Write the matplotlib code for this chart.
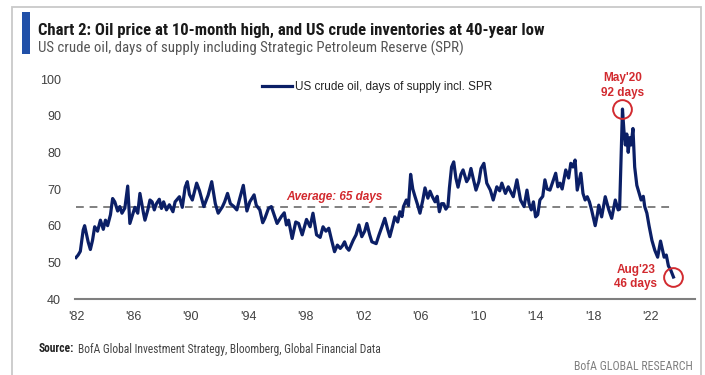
import numpy as np
import matplotlib
matplotlib.use("Agg")
import matplotlib.pyplot as plt
import matplotlib.patches as patches

# US crude oil, days of supply incl. SPR (decimal years)
years = [
    1982.0, 1982.15, 1982.3, 1982.5, 1982.6, 1982.85, 1983.0, 1983.15, 1983.3, 1983.5,
    1983.7, 1983.9, 1984.05, 1984.2, 1984.4, 1984.55, 1984.7, 1984.9, 1985.05, 1985.2,
    1985.4, 1985.6, 1985.75, 1985.9, 1986.1, 1986.3, 1986.45, 1986.7, 1986.8, 1987.0,
    1987.15, 1987.3, 1987.45, 1987.6, 1987.8, 1987.95, 1988.1, 1988.3, 1988.5, 1988.75,
    1988.9, 1989.2, 1989.4, 1989.6, 1989.75, 1989.9, 1990.1, 1990.4, 1990.6, 1990.9,
    1991.2, 1991.45, 1991.7, 1991.9, 1992.2, 1992.35, 1992.55, 1992.75, 1993.0, 1993.2,
    1993.4, 1993.65, 1993.9, 1994.1, 1994.4, 1994.55, 1994.8, 1995.0, 1995.15, 1995.4,
    1995.6, 1995.75, 1996.0, 1996.3, 1996.5, 1996.65, 1996.8, 1997.05, 1997.3, 1997.5,
    1997.75, 1998.05, 1998.3, 1998.5, 1998.75, 1999.0, 1999.2, 1999.4, 1999.6, 1999.8,
    2000.0, 2000.2, 2000.4, 2000.55, 2000.7, 2000.85, 2001.0, 2001.3, 2001.5, 2001.7,
    2001.9, 2002.1, 2002.25, 2002.45, 2002.6, 2002.9, 2003.1, 2003.3, 2003.5, 2003.7,
    2003.85, 2004.05, 2004.2, 2004.4, 2004.55, 2004.7, 2004.8, 2005.0, 2005.15, 2005.3,
    2005.45, 2005.6, 2005.8, 2005.95, 2006.15, 2006.3, 2006.5, 2006.65, 2006.8, 2007.0,
    2007.15, 2007.3, 2007.45, 2007.6, 2007.75, 2007.9, 2008.0, 2008.15, 2008.3, 2008.45,
    2008.6, 2008.8, 2008.95, 2009.2, 2009.35, 2009.5, 2009.65, 2009.85, 2010.05, 2010.2,
    2010.4, 2010.6, 2010.85, 2011.05, 2011.3, 2011.5, 2011.65, 2011.9, 2012.1, 2012.3,
    2012.45, 2012.7, 2012.95, 2013.2, 2013.4, 2013.55, 2013.7, 2013.85, 2014.0, 2014.15,
    2014.3, 2014.5, 2014.65, 2014.8, 2015.0, 2015.2, 2015.4, 2015.55, 2015.7, 2015.85,
    2016.1, 2016.3, 2016.45, 2016.6, 2016.75, 2016.9, 2017.15, 2017.3, 2017.45, 2017.6,
    2017.75, 2017.9, 2018.15, 2018.3, 2018.4, 2018.6, 2018.85, 2019.1, 2019.3, 2019.55,
    2019.75, 2019.85, 2019.95, 2020.05, 2020.15, 2020.25, 2020.35, 2020.45, 2020.55, 2020.65,
    2020.78, 2020.9, 2021.05, 2021.2, 2021.35, 2021.5, 2021.6, 2021.75, 2021.9, 2022.1,
    2022.3, 2022.5, 2022.7, 2022.8, 2022.95, 2023.1, 2023.25, 2023.4, 2023.6,
]
days = [
    51.3, 52.0, 53.0, 58.8, 60.0, 55.5, 53.5, 56.0, 59.7, 58.5,
    61.5, 59.0, 61.5, 60.0, 63.0, 67.4, 66.5, 64.0, 65.2, 63.4,
    64.8, 70.8, 60.6, 62.5, 65.0, 63.4, 68.8, 63.4, 61.5, 64.3,
    67.0, 66.5, 64.3, 66.0, 67.2, 64.7, 66.5, 64.3, 65.7, 63.8,
    66.5, 67.9, 65.0, 70.5, 72.0, 68.5, 67.0, 71.6, 69.5, 65.2,
    68.3, 72.0, 66.0, 63.4, 65.2, 66.5, 68.8, 66.0, 65.2, 64.3,
    67.4, 71.0, 64.0, 66.5, 68.4, 65.6, 64.3, 60.8, 62.0, 64.7,
    65.2, 63.5, 60.6, 62.5, 63.5, 60.2, 61.5, 56.5, 61.0, 60.6,
    57.5, 61.7, 59.7, 63.4, 57.5, 56.8, 59.7, 58.5, 59.3, 56.0,
    52.9, 54.7, 53.8, 54.5, 55.6, 54.0, 53.3, 56.0, 57.5, 60.2,
    57.0, 58.5, 60.6, 57.5, 55.6, 55.1, 57.5, 59.7, 62.0, 59.0,
    57.0, 60.0, 62.4, 61.0, 63.8, 62.5, 65.2, 67.0, 65.5, 74.0,
    70.0, 68.0, 65.5, 63.4, 67.0, 70.3, 67.5, 69.4, 68.0, 66.5,
    68.0, 63.8, 66.0, 66.0, 64.5, 65.4, 70.3, 76.0, 77.4, 73.0,
    70.5, 74.0, 75.2, 72.0, 73.0, 75.6, 73.0, 69.7, 72.0, 75.6,
    77.0, 71.6, 69.7, 67.0, 70.6, 69.5, 71.6, 68.8, 70.6, 69.0,
    67.9, 72.5, 67.0, 65.2, 69.7, 66.0, 64.3, 66.5, 62.4, 63.0,
    67.0, 68.0, 72.5, 70.0, 69.7, 72.0, 74.3, 70.6, 71.6, 70.0,
    75.2, 73.0, 77.0, 76.0, 77.9, 69.7, 74.3, 68.8, 67.0, 67.9,
    66.5, 64.3, 60.0, 63.0, 65.6, 62.4, 67.9, 64.3, 62.0, 67.0,
    64.3, 64.5, 78.0, 91.8, 86.0, 82.0, 85.0, 80.0, 84.0, 82.0,
    86.5, 76.0, 71.0, 69.0, 67.0, 68.0, 65.2, 63.4, 60.0, 56.0,
    53.3, 51.4, 55.8, 54.0, 51.4, 52.0, 49.0, 48.0, 46.0,
]
average = 65
tick_years = [1982, 1986, 1990, 1994, 1998, 2002, 2006, 2010, 2014, 2018, 2022]
tick_labels = ["'82", "'86", "'90", "'94", "'98", "'02", "'06", "'10", "'14", "'18", "'22"]

W, H = 705, 375
navy = "#0b1f66"
red = "#d22a2f"
narrow = ["Roboto Condensed", "Liberation Sans", "DejaVu Sans"]
plt.rcParams["font.family"] = ["Liberation Sans", "DejaVu Sans"]


def fpos(x, y):
    # pixel position -> figure fraction
    return x / W, 1 - y / H


fig = plt.figure(figsize=(W / 100, H / 100), dpi=100)
fig.patch.set_facecolor("white")

# frame and blue accent bar
fig.add_artist(patches.Rectangle(fpos(12, 400), 689 / W, 393 / H, transform=fig.transFigure,
                                 fill=False, ec="#c9c9c9", lw=1.3))
fig.add_artist(patches.Rectangle(fpos(22, 54), 8 / W, 42 / H, transform=fig.transFigure,
                                 color="#2050a8", lw=0))

fig.text(*fpos(38, 30), "Chart 2: Oil price at 10-month high, and US crude inventories at 40-year low",
         family=narrow, fontsize=12, fontweight="bold", color="#1a1a1a", va="center")
fig.text(*fpos(38, 48), "US crude oil, days of supply including Strategic Petroleum Reserve (SPR)",
         family=narrow, fontsize=10.7, color="#555555", va="center")

ax = fig.add_axes([75 / W, 76 / H, 620 / W, 220 / H])
ax.plot(years, days, color=navy, lw=2.3, solid_joinstyle="round",
        label="US crude oil, days of supply incl. SPR")
ax.hlines(average, years[0], years[-1], colors="#808080", linestyles=(0, (4, 3)), lw=1.4, zorder=1)
ax.text(2000.0, average + 1.2, "Average: %d days" % average, color=red, fontsize=8.5,
        fontweight="bold", style="italic", ha="center", va="bottom")

# highlighted points
i_max = int(np.argmax(days))
for i in [i_max, len(days) - 1]:
    ax.plot(years[i], days[i], "o", ms=13.5, mfc="none", mec=red, mew=1.4, zorder=5)
ax.annotate("May'20\n%d days" % round(days[i_max]), (years[i_max], days[i_max]),
            xytext=(0, 17), textcoords="offset points", ha="center", va="center",
            color=red, fontsize=8.5, fontweight="bold", linespacing=1.3)
ax.annotate("Aug'23\n%d days" % round(days[-1]), (years[-1], days[-1]),
            xytext=(-27, 0), textcoords="offset points", ha="center", va="center",
            color=red, fontsize=8.5, fontweight="bold", linespacing=1.3)

ax.set_xlim(1981.93, 2025.1)
ax.set_ylim(40, 100)
ax.set_yticks(range(40, 101, 10))
ax.set_xticks(tick_years)
ax.set_xticklabels(tick_labels)
ax.tick_params(length=0, labelsize=9, colors="#404040")
ax.tick_params(axis="y", pad=10)
ax.tick_params(axis="x", pad=9)
for s in ["left", "right", "top"]:
    ax.spines[s].set_visible(False)
ax.spines["bottom"].set_color("#7f7f7f")
ax.spines["bottom"].set_linewidth(1.5)

ax.legend(loc="center", bbox_to_anchor=(0.487, 0.9636), frameon=False, fontsize=8.5,
          handlelength=2.5, handletextpad=0.25, labelcolor="#222222")

src = fig.text(*fpos(39, 349), "Source:", family=narrow, fontsize=8.3, fontweight="bold",
               color="#222222", va="center")
fig.canvas.draw()
src_right = src.get_window_extent().x1
fig.text((src_right + 4) / W, 1 - 349 / H,
         "BofA Global Investment Strategy, Bloomberg, Global Financial Data",
         family=narrow, fontsize=8.3, color="#444444", va="center")
fig.text(*fpos(693, 366), "BofA GLOBAL RESEARCH", family=narrow, fontsize=8.6,
         color="#808080", va="center", ha="right")

fig.savefig("out.png", dpi=100)
